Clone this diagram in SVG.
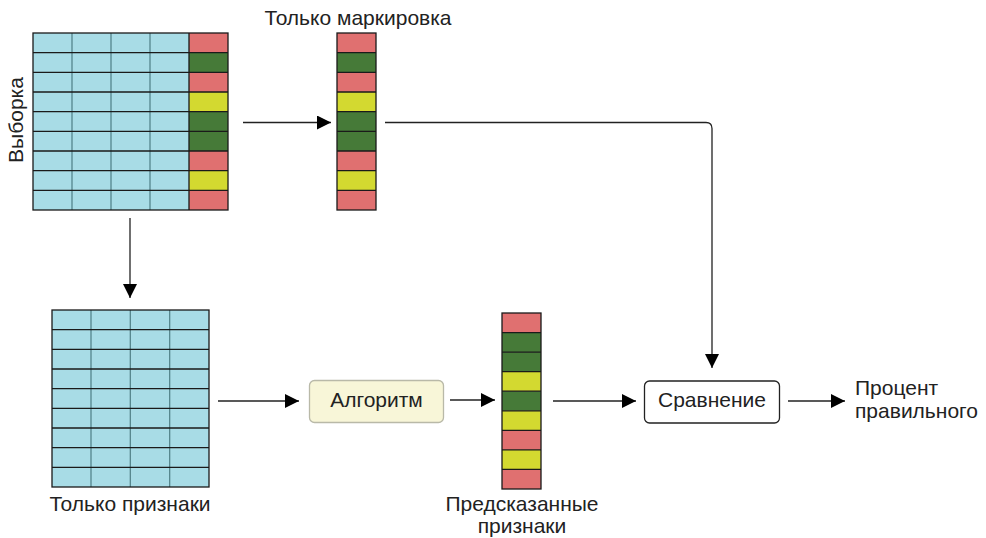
<svg xmlns="http://www.w3.org/2000/svg" width="986" height="538" viewBox="0 0 986 538">
<style>
text{font-family:"Liberation Sans",Arial,sans-serif;font-size:21px;fill:#222}
.cy{fill:#a8dce6}
.r{fill:#e07070}
.g{fill:#467a38}
.y{fill:#d3d930}
.hl{stroke:#1a1a1a;stroke-width:1.3;fill:none}
.vl{stroke:#4f7f86;stroke-width:1.2;fill:none}
.vk{stroke:#1a1a1a;stroke-width:1.3;fill:none}
.ln{stroke:#222;stroke-width:1.3;fill:none}
</style>
<defs>
<marker id="ah" markerWidth="14" markerHeight="14" viewBox="0 0 14 14" refX="14" refY="7" orient="auto" markerUnits="userSpaceOnUse">
<path d="M0,0 L14,7 L0,14 Z" fill="#000"/>
</marker>
</defs>

<g id="sample">
<rect class="cy" x="33" y="33" width="156" height="177"/>
<rect class="r" x="189" y="33" width="39" height="19.67"/>
<rect class="g" x="189" y="52.67" width="39" height="19.67"/>
<rect class="r" x="189" y="72.33" width="39" height="19.67"/>
<rect class="y" x="189" y="92" width="39" height="19.67"/>
<rect class="g" x="189" y="111.67" width="39" height="19.67"/>
<rect class="g" x="189" y="131.33" width="39" height="19.67"/>
<rect class="r" x="189" y="151" width="39" height="19.67"/>
<rect class="y" x="189" y="170.67" width="39" height="19.67"/>
<rect class="r" x="189" y="190.33" width="39" height="19.67"/>
<path class="vl" d="M72,33V210M111,33V210M150,33V210"/>
<path class="vk" d="M189,33V210"/>
<path class="hl" d="M33,52.67H228M33,72.33H228M33,92H228M33,111.67H228M33,131.33H228M33,151H228M33,170.67H228M33,190.33H228"/>
<rect x="33" y="33" width="195" height="177" class="hl"/>
<text transform="translate(23,120) rotate(-90)" text-anchor="middle">Выборка</text>
</g>

<g id="labels-only">
<rect class="r" x="337" y="33" width="39" height="19.67"/>
<rect class="g" x="337" y="52.67" width="39" height="19.67"/>
<rect class="r" x="337" y="72.33" width="39" height="19.67"/>
<rect class="y" x="337" y="92" width="39" height="19.67"/>
<rect class="g" x="337" y="111.67" width="39" height="19.67"/>
<rect class="g" x="337" y="131.33" width="39" height="19.67"/>
<rect class="r" x="337" y="151" width="39" height="19.67"/>
<rect class="y" x="337" y="170.67" width="39" height="19.67"/>
<rect class="r" x="337" y="190.33" width="39" height="19.67"/>
<path class="hl" d="M337,52.67H376M337,72.33H376M337,92H376M337,111.67H376M337,131.33H376M337,151H376M337,170.67H376M337,190.33H376"/>
<rect x="337" y="33" width="39" height="177" class="hl"/>
<text x="358" y="24.5" text-anchor="middle">Только маркировка</text>
</g>

<g id="features-only">
<rect class="cy" x="52" y="310" width="157" height="177"/>
<path class="vl" d="M91,310V487M130.3,310V487M169.7,310V487"/>
<path class="hl" d="M52,329.67H209M52,349.33H209M52,369H209M52,388.67H209M52,408.33H209M52,428H209M52,447.67H209M52,467.33H209"/>
<rect x="52" y="310" width="157" height="177" class="hl"/>
<text x="130" y="511" text-anchor="middle">Только признаки</text>
</g>

<g id="algorithm">
<rect x="309.5" y="380.5" width="134" height="42" rx="5" fill="#f8f6d8" stroke="#b9b9a8" stroke-width="1.3"/>
<text x="376.5" y="407" text-anchor="middle">Алгоритм</text>
</g>

<g id="predicted">
<rect class="r" x="502" y="313" width="39" height="19.56"/>
<rect class="g" x="502" y="332.56" width="39" height="19.56"/>
<rect class="g" x="502" y="352.11" width="39" height="19.56"/>
<rect class="y" x="502" y="371.67" width="39" height="19.56"/>
<rect class="g" x="502" y="391.22" width="39" height="19.56"/>
<rect class="y" x="502" y="410.78" width="39" height="19.56"/>
<rect class="r" x="502" y="430.33" width="39" height="19.56"/>
<rect class="y" x="502" y="449.89" width="39" height="19.56"/>
<rect class="r" x="502" y="469.44" width="39" height="19.56"/>
<path class="hl" d="M502,332.56H541M502,352.11H541M502,371.67H541M502,391.22H541M502,410.78H541M502,430.33H541M502,449.89H541M502,469.44H541"/>
<rect x="502" y="313" width="39" height="176" class="hl"/>
<text x="522" y="511" text-anchor="middle">Предсказанные</text>
<text x="522" y="533" text-anchor="middle">признаки</text>
</g>

<g id="compare">
<rect x="644.5" y="381" width="135" height="42" rx="5" fill="#fff" stroke="#222" stroke-width="1.3"/>
<text x="712" y="407" text-anchor="middle">Сравнение</text>
</g>

<g id="result">
<text x="855" y="395">Процент</text>
<text x="855" y="418">правильного</text>
</g>

<g id="connectors">
<path class="ln" d="M243,122.5H331" marker-end="url(#ah)"/>
<path class="ln" d="M385,122.5H706Q712,122.5 712,128.5V368" marker-end="url(#ah)"/>
<path class="ln" d="M130,218V298" marker-end="url(#ah)"/>
<path class="ln" d="M218,401H299" marker-end="url(#ah)"/>
<path class="ln" d="M450,400H495" marker-end="url(#ah)"/>
<path class="ln" d="M553,401H636" marker-end="url(#ah)"/>
<path class="ln" d="M788,401H845" marker-end="url(#ah)"/>
</g>
</svg>
